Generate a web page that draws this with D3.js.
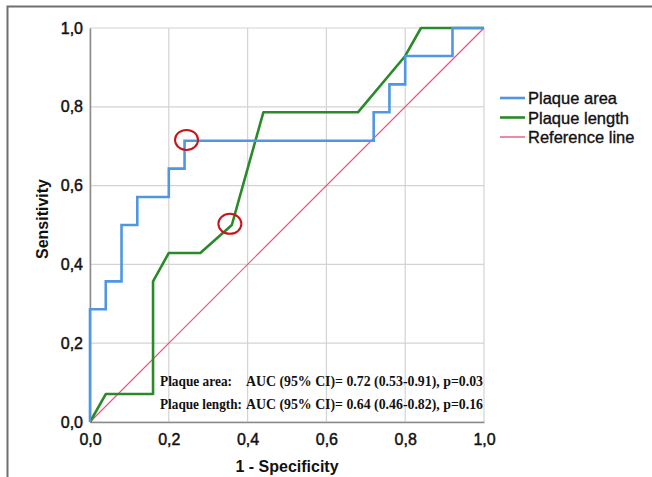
<!DOCTYPE html>
<html>
<head>
<meta charset="utf-8">
<script src="https://cdn.jsdelivr.net/npm/d3@7"></script>
<style>
  body { margin: 0; background: #fff; }
  svg { display: block; }
</style>
</head>
<body>
<script>
// ROC points (x = 1 - specificity, y = sensitivity)
var areaFpr  = [0, 0, 0.04, 0.04, 0.08, 0.08, 0.12, 0.12, 0.20, 0.20, 0.24, 0.24, 0.72, 0.72, 0.76, 0.76, 0.80, 0.80, 0.92, 0.92, 1.0];
var areaTpr  = [0, 0.286, 0.286, 0.357, 0.357, 0.5, 0.5, 0.571, 0.571, 0.643, 0.643, 0.714, 0.714, 0.786, 0.786, 0.857, 0.857, 0.929, 0.929, 1.0, 1.0];
var lengthFpr = [0, 0.04, 0.16, 0.16, 0.20, 0.28, 0.36, 0.44, 0.68, 0.80, 0.84, 1.0];
var lengthTpr = [0, 0.071, 0.071, 0.357, 0.429, 0.429, 0.5, 0.786, 0.786, 0.929, 1.0, 1.0];
var refLine = [0, 1];
var ticks = [0, 0.2, 0.4, 0.6, 0.8, 1.0];
var seriesNames = ["Plaque area", "Plaque length", "Reference line"];
var seriesColors = ["#4f97e3", "#2a8a2a", "#e8567c"];
// highlighted cut-off points
var markFpr = [0.245, 0.355];
var markTpr = [0.716, 0.503];
var aucLabels = ["Plaque area:", "Plaque length:"];
var aucTexts = ["AUC (95% CI)= 0.72 (0.53-0.91), p=0.03", "AUC (95% CI)= 0.64 (0.46-0.82), p=0.16"];

var W = 652, H = 477;
var svg = d3.select("body").append("svg").attr("width", W).attr("height", H);

// outer frame (top and left edges visible)
svg.append("path")
  .attr("d", "M7.5,477 L7.5,6.5 L652,6.5")
  .attr("fill", "none").attr("stroke", "#6f6f6f").attr("stroke-width", 2);

var x = d3.scaleLinear().domain([0, 1]).range([90, 484]);
var y = d3.scaleLinear().domain([0, 1]).range([422, 28]);
var fmt = function(v) { return d3.format(".1f")(v).replace(".", ","); };

// gridlines
var grid = svg.append("g");
grid.selectAll("line.vx").data(ticks).enter().append("line")
  .attr("x1", function(d) { return x(d); }).attr("x2", function(d) { return x(d); })
  .attr("y1", y(0)).attr("y2", y(1))
  .attr("stroke", "#d3d3d3").attr("stroke-width", 1.2);
grid.selectAll("line.hy").data(ticks).enter().append("line")
  .attr("y1", function(d) { return y(d); }).attr("y2", function(d) { return y(d); })
  .attr("x1", x(0)).attr("x2", x(1))
  .attr("stroke", "#d3d3d3").attr("stroke-width", 1.2);

// axes
var xAxis = svg.append("g").attr("transform", "translate(0," + y(0) + ")")
  .call(d3.axisBottom(x).tickValues(ticks).tickFormat(fmt).tickSize(0).tickPadding(12));
var yAxis = svg.append("g").attr("transform", "translate(" + x(0) + ",0)")
  .call(d3.axisLeft(y).tickValues(ticks).tickFormat(fmt).tickSize(0).tickPadding(7));
[xAxis, yAxis].forEach(function(a) {
  a.select(".domain").attr("stroke", "#8a8a8a").attr("stroke-width", 1.5);
  a.selectAll("text").attr("font-family", "Liberation Sans, Arial, sans-serif")
    .attr("font-size", 16).attr("fill", "#111")
    .attr("stroke", "#111").attr("stroke-width", 0.45);
});

// axis titles
svg.append("text").attr("x", 287).attr("y", 472).attr("text-anchor", "middle")
  .attr("font-family", "Liberation Sans, Arial, sans-serif").attr("font-size", 16)
  .attr("font-weight", "bold").attr("fill", "#111").text("1 - Specificity");
svg.append("text").attr("transform", "translate(48,219) rotate(-90)").attr("text-anchor", "middle")
  .attr("font-family", "Liberation Sans, Arial, sans-serif").attr("font-size", 16)
  .attr("font-weight", "bold").attr("fill", "#111").text("Sensitivity");

var line = d3.line().x(function(d) { return x(d[0]); }).y(function(d) { return y(d[1]); });

// reference diagonal
svg.append("path").datum(d3.zip(refLine, refLine)).attr("d", line)
  .attr("fill", "none").attr("stroke", seriesColors[2]).attr("stroke-width", 1.2);
// plaque length
svg.append("path").datum(d3.zip(lengthFpr, lengthTpr)).attr("d", line)
  .attr("fill", "none").attr("stroke", seriesColors[1]).attr("stroke-width", 2.6)
  .attr("stroke-linejoin", "round");
// plaque area
svg.append("path").datum(d3.zip(areaFpr, areaTpr)).attr("d", line)
  .attr("fill", "none").attr("stroke", seriesColors[0]).attr("stroke-width", 2.6);

// red circle markers
svg.selectAll("ellipse.mark").data(d3.zip(markFpr, markTpr)).enter().append("ellipse")
  .attr("cx", function(d) { return x(d[0]); }).attr("cy", function(d) { return y(d[1]); })
  .attr("rx", 11.5).attr("ry", 10)
  .attr("fill", "none").attr("stroke", "#c4161c").attr("stroke-width", 2);

// AUC annotation
var ann = svg.append("g").attr("font-family", "Liberation Serif, Times New Roman, serif")
  .attr("font-weight", "bold").attr("font-size", 15).attr("fill", "#111");
var labelWidths = [72, 82];
var annBase = [386, 409];
aucLabels.forEach(function(lbl, i) {
  ann.append("text").attr("x", 160).attr("y", annBase[i])
    .attr("textLength", labelWidths[i]).attr("lengthAdjust", "spacingAndGlyphs").text(lbl);
  ann.append("text").attr("x", 246).attr("y", annBase[i])
    .attr("textLength", 237).attr("lengthAdjust", "spacingAndGlyphs").text(aucTexts[i]);
});

// legend
var leg = svg.append("g");
seriesNames.forEach(function(name, i) {
  var yy = 98 + i * 19.5;
  leg.append("line").attr("x1", 500).attr("x2", 525).attr("y1", yy).attr("y2", yy)
    .attr("stroke", seriesColors[i]).attr("stroke-width", i < 2 ? 2.6 : 1.4);
  leg.append("text").attr("x", 528).attr("y", yy + 6)
    .attr("font-family", "Liberation Sans, Arial, sans-serif").attr("font-size", 16.5)
    .attr("fill", "#111").attr("stroke", "#111").attr("stroke-width", 0.35).text(name);
});
</script>
</body>
</html>
